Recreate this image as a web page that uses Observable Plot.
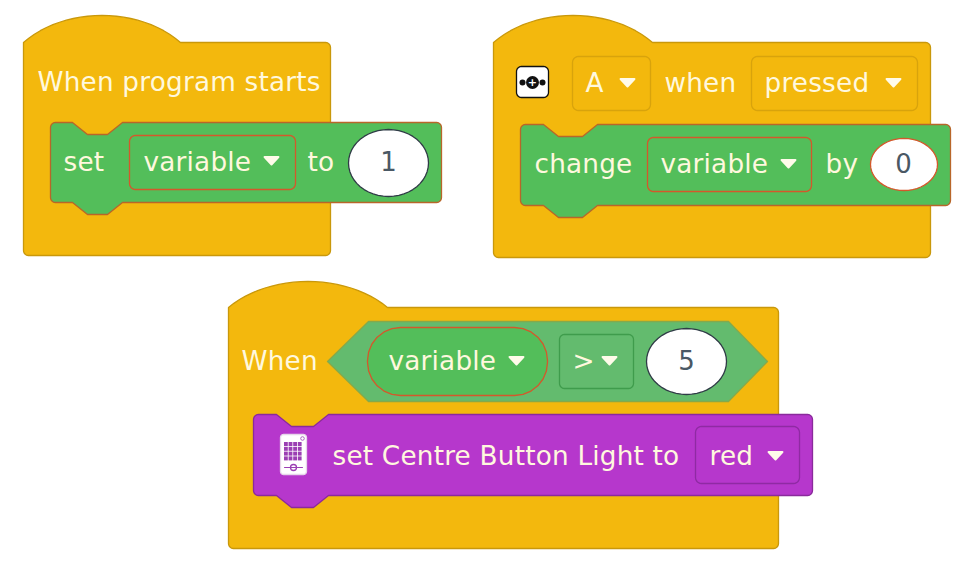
<!DOCTYPE html>
<html>
<head>
<meta charset="utf-8">
<script src="https://cdn.jsdelivr.net/npm/d3@7"></script>
<script src="https://cdn.jsdelivr.net/npm/@observablehq/plot@0.6"></script>
<style>
html,body{margin:0;padding:0;background:#fff;}
#chart svg{display:block;}
</style>
</head>
<body>
<div id="chart"></div>
<script>
// ---- content ----
const hatLabels = ["When program starts", "when", "When"];
const blockWords = ["set", "to", "change", "by", "set Centre Button Light to"];
const dropdownLabels = ["variable", "A", "pressed", "variable", "variable", ">", "red"];
const inputValues = ["1", "0", "5"];

// ---- palette ----
const YELLOW = "#f3b80d", YELLOW_DARK = "#c9980b", YELLOW_FIELD = "#d8a30c";
const GREEN = "#53be5a", GREEN_EDGE = "#b8662a", GREEN_FIELD = "#d4582b";
const HEX = "#63bb6e", HEX_EDGE = "#86a94a", OP_EDGE = "#3f9c4c";
const PURPLE = "#b637cc", PURPLE_EDGE = "#8a2a9c", PURPLE_FIELD = "#8f2aa3";
const CREAM = "#fff8de", INK = "#4a5864";
const FONT = "DejaVu Sans";

// ---- geometry helpers (block outlines) ----
function arc(cx, cy, r, a0, a1, n = 6) {
  const p = [];
  for (let i = 0; i <= n; i++) {
    const a = a0 + (a1 - a0) * i / n;
    p.push([cx + r * Math.cos(a), cy + r * Math.sin(a)]);
  }
  return p;
}
const PI = Math.PI;
function roundRect(x0, y0, x1, y1, r) {
  return [
    ...arc(x1 - r, y0 + r, r, -PI / 2, 0),
    ...arc(x1 - r, y1 - r, r, 0, PI / 2),
    ...arc(x0 + r, y1 - r, r, PI / 2, PI),
    ...arc(x0 + r, y0 + r, r, PI, 1.5 * PI)
  ];
}
function hat(x0, y0, x1, y1, hw, hh, r) {
  const p = [];
  const c = hh / 0.75;
  for (let i = 0; i <= 24; i++) {
    const t = i / 24, u = 1 - t;
    const bx = 3 * u * u * t * 0.26 * hw + 3 * u * t * t * 0.74 * hw + t * t * t * hw;
    const by = -(3 * u * u * t * c + 3 * u * t * t * c);
    p.push([x0 + bx, y0 + by]);
  }
  return [...p, ...arc(x1 - r, y0 + r, r, -PI / 2, 0), ...arc(x1 - r, y1 - r, r, 0, PI / 2), ...arc(x0 + r, y1 - r, r, PI / 2, PI)];
}
function stack(x0, y0, x1, y1, r, nx, nw, nd) {
  const s = nd * 1.25;
  return [
    [x0 + nx, y0], [x0 + nx + s, y0 + nd], [x0 + nx + nw - s, y0 + nd], [x0 + nx + nw, y0],
    ...arc(x1 - r, y0 + r, r, -PI / 2, 0),
    ...arc(x1 - r, y1 - r, r, 0, PI / 2),
    [x0 + nx + nw, y1], [x0 + nx + nw - s, y1 + nd], [x0 + nx + s, y1 + nd], [x0 + nx, y1],
    ...arc(x0 + r, y1 - r, r, PI / 2, PI),
    ...arc(x0 + r, y0 + r, r, PI, 1.5 * PI)
  ];
}
function ellipse(x0, y0, x1, y1) {
  const cx = (x0 + x1) / 2, cy = (y0 + y1) / 2, rx = (x1 - x0) / 2, ry = (y1 - y0) / 2;
  const p = [];
  for (let i = 0; i < 48; i++) { const a = 2 * PI * i / 48; p.push([cx + rx * Math.cos(a), cy + ry * Math.sin(a)]); }
  return p;
}

// ---- layout ----
const shapes = [
  {id: "hat1", pts: hat(23, 42, 330, 255, 157, 27, 5), fill: YELLOW, stroke: YELLOW_DARK},
  {id: "hat2", pts: hat(493, 42, 930, 257, 159, 27, 5), fill: YELLOW, stroke: YELLOW_DARK},
  {id: "hat3", pts: hat(228, 307, 778, 548, 159, 26, 5), fill: YELLOW, stroke: YELLOW_DARK},
  {id: "set", pts: stack(50, 122, 441, 202, 5, 22, 50, 12), fill: GREEN, stroke: GREEN_EDGE},
  {id: "change", pts: stack(520, 124, 950, 205, 5, 23, 54, 12), fill: GREEN, stroke: GREEN_EDGE},
  {id: "light", pts: stack(253, 414, 812, 495, 5, 23, 52, 12), fill: PURPLE, stroke: PURPLE_EDGE},
  {id: "hex", pts: [[327, 361], [368, 321], [728, 321], [767, 361], [728, 401], [368, 401]], fill: HEX, stroke: HEX_EDGE},
  {id: "dd1", pts: roundRect(129, 135, 295, 189, 6), fill: GREEN, stroke: GREEN_FIELD},
  {id: "ddA", pts: roundRect(572, 56, 650, 110, 6), fill: YELLOW, stroke: YELLOW_FIELD},
  {id: "ddP", pts: roundRect(751, 56, 917, 110, 6), fill: YELLOW, stroke: YELLOW_FIELD},
  {id: "dd2", pts: roundRect(647, 137, 811, 191, 6), fill: GREEN, stroke: GREEN_FIELD},
  {id: "ddV", pts: roundRect(367, 327, 547, 395, 33), fill: GREEN, stroke: GREEN_FIELD},
  {id: "ddOp", pts: roundRect(559, 334, 633, 388, 5), fill: HEX, stroke: OP_EDGE},
  {id: "ddR", pts: roundRect(695, 426, 799, 483, 6), fill: PURPLE, stroke: PURPLE_FIELD},
  {id: "in1", pts: ellipse(348, 129, 428, 196), fill: "#ffffff", stroke: "#2f3b46"},
  {id: "in2", pts: ellipse(870, 138, 937, 190), fill: "#ffffff", stroke: "#d4582b"},
  {id: "in3", pts: ellipse(646, 328, 726, 394), fill: "#ffffff", stroke: "#2f3b46"},
  {id: "icon1", pts: roundRect(516, 66, 548, 97, 5), fill: "#ffffff", stroke: "#111111"},
  {id: "icon2", pts: roundRect(280, 434, 306, 474, 3), fill: "#ffffff", stroke: "#e6d6ea"}
];
const outline = shapes.flatMap(s => s.pts.map(([x, y]) => ({id: s.id, x, y, fill: s.fill, stroke: s.stroke})));

const labels = [
  {t: hatLabels[0], x: 37, y: 82},
  {t: blockWords[0], x: 63, y: 162},
  {t: dropdownLabels[0], x: 143, y: 162},
  {t: blockWords[1], x: 307, y: 162},
  {t: dropdownLabels[1], x: 585, y: 83},
  {t: hatLabels[1], x: 664, y: 83},
  {t: dropdownLabels[2], x: 764, y: 83},
  {t: blockWords[2], x: 534, y: 164},
  {t: dropdownLabels[3], x: 660, y: 164},
  {t: blockWords[3], x: 825, y: 164},
  {t: hatLabels[2], x: 241, y: 361},
  {t: dropdownLabels[4], x: 388, y: 361},
  {t: dropdownLabels[5], x: 572, y: 361},
  {t: blockWords[4], x: 332, y: 456},
  {t: dropdownLabels[6], x: 709, y: 456}
];
const values = [
  {t: inputValues[0], x: 388, y: 162},
  {t: inputValues[1], x: 903, y: 164},
  {t: inputValues[2], x: 686, y: 361}
];
const arrows = [
  {x: 271, y: 160}, {x: 627, y: 82}, {x: 893, y: 82}, {x: 788, y: 163},
  {x: 516, y: 360}, {x: 609, y: 360}, {x: 775, y: 455}
];
const flatTriangle = {
  draw(ctx, size) {
    const s = Math.sqrt(size) / 10;
    ctx.moveTo(-7 * s, -3.5 * s);
    ctx.lineTo(7 * s, -3.5 * s);
    ctx.lineTo(0, 4 * s);
    ctx.closePath();
  }
};
const gridCols = [0, 1, 2, 3], gridRows = [0, 1, 2, 3];
const gridCells = d3.cross(gridCols, gridRows).map(([c, r]) => ({x1: 284 + c * 4.6, x2: 284 + c * 4.6 + 3.8, y1: 442 + r * 4.8, y2: 442 + r * 4.8 + 4}));

const plot = Plot.plot({
  width: 979, height: 566,
  marginTop: 0, marginRight: 0, marginBottom: 0, marginLeft: 0,
  x: {domain: [0, 979], range: [0, 979], axis: null},
  y: {domain: [0, 566], range: [0, 566], axis: null},
  color: {type: "identity"},
  style: {background: "#ffffff", fontFamily: FONT, letterSpacing: "0.2px"},
  marks: [
    Plot.line(outline, {x: "x", y: "y", z: "id", fill: "fill", stroke: "stroke", strokeWidth: 1.3, curve: "linear-closed"}),
    Plot.text(labels, {x: "x", y: "y", text: "t", fill: CREAM, fontSize: 26.3, textAnchor: "start", fontFamily: FONT}),
    Plot.text(values, {x: "x", y: "y", text: "t", fill: INK, fontSize: 26, textAnchor: "middle", fontFamily: FONT}),
    Plot.dot(arrows, {x: "x", y: "y", symbol: flatTriangle, r: 5.6, fill: "#fffbea", stroke: "#fffbea", strokeWidth: 2, strokeLinejoin: "round"}),
    // button icon
    Plot.dot([{x: 532, y: 82}], {x: "x", y: "y", r: 6.5, fill: "#111"}),
    Plot.dot([{x: 522, y: 82}, {x: 542, y: 82}], {x: "x", y: "y", r: 3, fill: "#111"}),
    Plot.text([{x: 532, y: 82}], {x: "x", y: "y", text: () => "+", fill: "#fff", fontSize: 11, fontWeight: "bold"}),
    // hub icon
    Plot.rect(gridCells, {x1: "x1", x2: "x2", y1: "y1", y2: "y2", fill: "#9b3fb3"}),
    Plot.dot([{x: 293, y: 467}], {x: "x", y: "y", r: 3, fill: "#fff", stroke: "#9b3fb3", strokeWidth: 1.3}),
    Plot.line([{x: 284, y: 467}, {x: 302, y: 467}], {x: "x", y: "y", stroke: "#9b3fb3", strokeWidth: 1}),
    Plot.dot([{x: 302, y: 438}], {x: "x", y: "y", r: 1.8, fill: "none", stroke: "#9b3fb3", strokeWidth: 0.8})
  ]
});
document.getElementById("chart").appendChild(plot);
</script>
</body>
</html>
